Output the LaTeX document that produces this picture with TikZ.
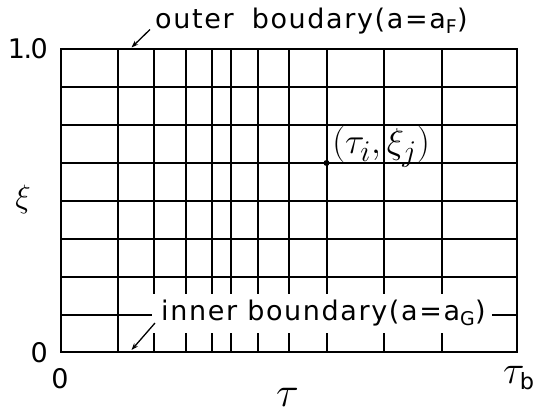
\documentclass[tikz,border=0pt]{standalone}
\usepackage{fontspec}
\newfontfamily\lettering[LetterSpace=6]{DejaVu Sans}
\usetikzlibrary{arrows.meta}

\begin{document}
\begin{tikzpicture}[x=1pt, y=-1pt,
  lbl/.style={font=\lettering\fontsize{27}{30}\selectfont, inner sep=0pt},
  sym/.style={font=\fontsize{24.88}{28}\selectfont, inner sep=0pt,
              transform shape},
  gridline/.style={line width=2pt},
  arr/.style={-{Stealth[length=7pt, width=5pt]}, line width=1.3pt}
]
\useasboundingbox (0,0) rectangle (535,415);

% Grid: vertical lines, broken behind the lower label
\foreach \x in {154,186,212,231,257.5,288.5,326.5,383.5,441.5} {
  \draw[gridline] (\x,49) -- (\x,294);
  \draw[gridline] (\x,333) -- (\x,352);
}
\draw[gridline] (117.5,49) -- (117.5,352);

% Grid: horizontal lines
\foreach \y in {87,125,163,201,239,277}
  \draw[gridline] (61,\y) -- (516.7,\y);
\draw[gridline] (61,49) rectangle (516.7,352);

% Boundary labels
\node[lbl, anchor=base west] at (155,28)  (outer) {outer\hspace{8pt} boudary(a=a\textsubscript{F})};
\node[lbl, anchor=base west] at (161,320) (inner) {inner boundary(a=a\textsubscript{G})};
\coordinate (inleft)  at (61,314.5);
\coordinate (inright) at (516.7,314.5);
\draw[gridline] (inleft) -- ([xshift=-9pt]inner.west |- inleft);
\draw[gridline] ([xshift=6pt]inner.east |- inright) -- (inright);

% Axis labels
\node[lbl, anchor=base east] at (48,58)  (ximax)  {1\kern-1.5pt.\kern-1.5pt0};
\node[lbl, anchor=base east] at (48,362) (ximin)  {0};
\node[lbl, anchor=base]      at (60,388) (taumin) {0};
\node[sym, scale=1.6] at (519,378) (taub) {$\tau_{\hbox{\lettering\fontsize{14}{16}\selectfont b}}$};
\node[sym, scale=1.7] at (287.5,397) (tau) {$\tau$};
\node[sym, scale=1.3] at (23,199) (xi) {$\xi$};

% Grid point
\node[circle, fill, inner sep=0pt, minimum size=6pt] at (326.5,163) (pt) {};
\node[sym, scale=1.45, anchor=west] at (332,147) (ptlbl) {$(\tau_i,\xi_j)$};

% Arrows
\coordinate (outtip) at (131.5,47.5);
\coordinate (intip)  at (131.5,350);
\draw[arr] ([shift={(-5,1.5)}]outer.base west) -- (outtip);
\draw[arr] ([shift={(-6,3)}]inner.base west) -- (intip);

\end{tikzpicture}
\end{document}
